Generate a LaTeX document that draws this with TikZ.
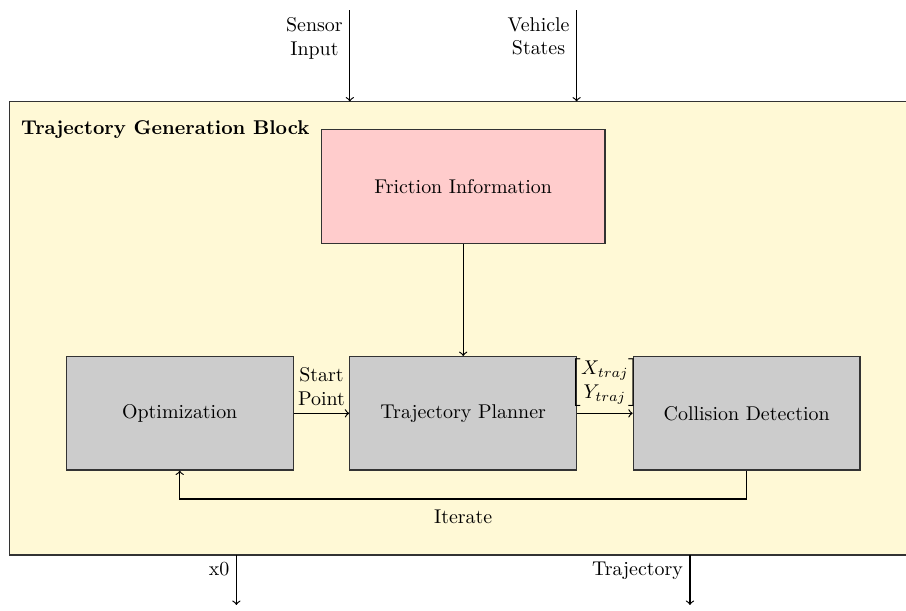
\documentclass[tikz,border=0pt]{standalone}
\usepackage{amsmath}
\usetikzlibrary{positioning}
\definecolor{blockyellow}{RGB}{255,249,214}

\begin{document}
\begin{tikzpicture}[
        block/.style={draw=black!80, semithick, fill=black!20, minimum width=4cm, minimum height=2cm},
        link/.style={->, semithick}
    ]
            \useasboundingbox (-8.17,-3.47) rectangle (7.81,7.29);

            % Background block
            \fill[blockyellow] (-8,-2.5) rectangle (7.81,5.5);
            \draw[black!80, semithick] (7.81,5.5) -- (-8,5.5) -- (-8,-2.5) -- (7.81,-2.5);
            \node[anchor=west, font=\bfseries] (title) at (-7.92,5.0) {Trajectory Generation Block};

            % Define nodes
            \node[block] (planner) at (0,0) {Trajectory Planner};
            \node[block] (opt) at (-5,0) {Optimization};
            \node[block] (collision) at (5,0) {Collision Detection};
            \node[block, fill=red!20, minimum width=5cm] (friction) at (0,4) {Friction Information};

            % Inputs and outputs
            \coordinate (sensor) at (-2,7.11);
            \coordinate (sensorin) at (-2,5.5);
            \coordinate (vehicle) at (2,7.11);
            \coordinate (vehiclein) at (2,5.5);
            \coordinate (x0out) at (-4,-2.5);
            \coordinate (x0end) at (-4,-3.38);
            \coordinate (trajout) at (4,-2.5);
            \coordinate (trajend) at (4,-3.38);

            \node[anchor=north east, align=center] (sensorlbl) at (sensor) {Sensor\\Input};
            \node[anchor=north east, align=center] (vehiclelbl) at (vehicle) {Vehicle\\States};
            \node[anchor=north east] (x0lbl) at (x0out) {x0};
            \node[anchor=north east] (trajlbl) at (trajout) {Trajectory};

            % Draw edges
            \draw[link] (sensor) -- (sensorin);
            \draw[link] (vehicle) -- (vehiclein);
            \draw[link] (x0out) -- (x0end);
            \draw[link] (trajout) -- (trajend);
            \draw[link] (friction) -- (planner);
            \draw[link] (opt) -- node[above, align=center] {Start\\Point} (planner);
            \draw[link] (planner) -- node[above] {$\begin{bmatrix}X_{traj}\\Y_{traj}\end{bmatrix}$} (collision);
            \draw[link] (collision.south) -- ++(0,-0.5) -| node[pos=0.25, below, yshift=-2pt] {Iterate} (opt.south);

        \end{tikzpicture}
\end{document}
